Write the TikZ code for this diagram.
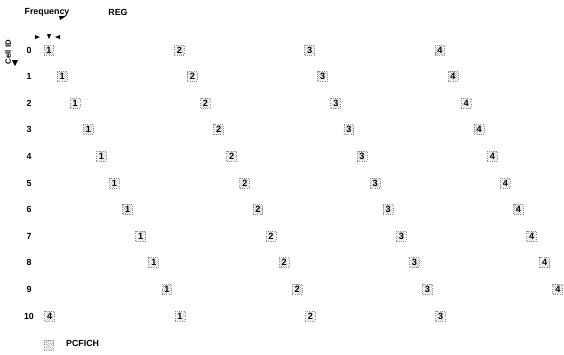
\documentclass[tikz,border=0pt]{standalone}
\usepackage{fontspec}
\setmainfont{Liberation Sans}
\usetikzlibrary{patterns}
\definecolor{regdots}{RGB}{140,140,140}

\tikzset{
  regbox/.style={rectangle, draw=regdots, dotted, line width=1.2pt, pattern=crosshatch dots, pattern color=regdots,
    minimum width=14, minimum height=14, inner sep=0pt, font=\fontsize{13}{14}\selectfont\bfseries},
  celllabel/.style={inner sep=0pt, font=\fontsize{12.6}{14}\selectfont\bfseries},
  tip/.style={fill=black, draw=none}
}

\begin{document}
\begin{tikzpicture}[x=0.5mm, y=-0.5mm]
            \useasboundingbox (0,0) rectangle (564,354);

            % Axis titles
            \node[celllabel] (freq) at (47,12) {Frequency};
            \node[celllabel] (reg) at (118,12) {REG};
            \node[celllabel, rotate=90, font=\fontsize{11}{12}\selectfont\bfseries] (cellid) at (8,52) {Cell ID};

            % Direction marks
            \fill[tip] (59,16) -- (66,16) -- (60,20) -- cycle;
            \fill[tip] (35,35) -- (40,37) -- (35,39) -- cycle;
            \fill[tip] (47,34) -- (51,34) -- (49,39) -- cycle;
            \fill[tip] (60,35) -- (55,37) -- (60,39) -- cycle;
            \fill[tip] (12,60) -- (18,60) -- (15,66) -- cycle;

            % Rows of REGs, shifted by cell ID
            \foreach \r in {0,...,10} {
              \node[celllabel] (row\r) at (29,{50+26.6*\r}) {\r};
              \foreach \c in {1,...,4} {
                \pgfmathsetmacro\xx{49+130.3*(\c-1)+13.1*\r}
                \pgfmathsetmacro\xx{\xx>566 ? \xx-521.2 : \xx}
                \node[regbox] (reg\r-\c) at (\xx,{50+26.6*\r}) {\c};
              }
            }

            % Legend
            \node[regbox] (legbox) at (49,345) {};
            \node[celllabel, anchor=west] (legtext) at (66,343) {PCFICH};
        \end{tikzpicture}
\end{document}
